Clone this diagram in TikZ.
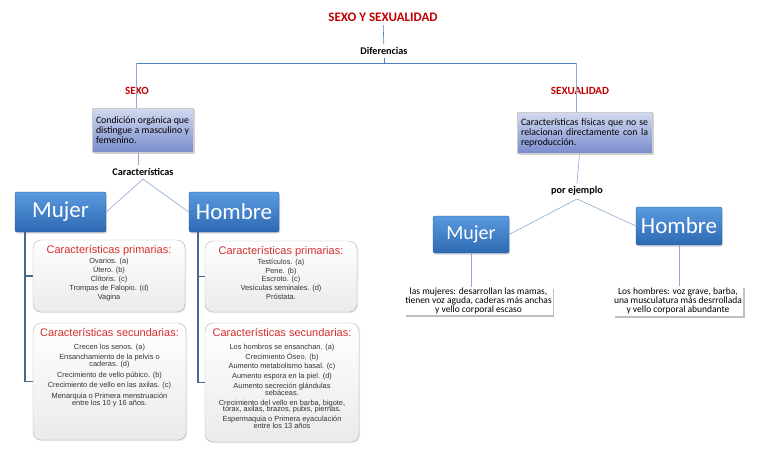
\documentclass[tikz,border=0pt]{standalone}
\usepackage{fontspec}
\setmainfont{Carlito}
\newfontfamily\arialf{Liberation Sans}
\usetikzlibrary{positioning, shadows, calc}
\definecolor{mRed}{HTML}{C00000}
\definecolor{mRedT}{HTML}{D2302E}
\definecolor{mBlue}{HTML}{4F81BD}
\definecolor{mLine}{HTML}{8EA8D4}
\definecolor{mTrunk}{HTML}{4A6890}
\definecolor{mBoxTop}{HTML}{5A9AE0}
\definecolor{mBoxBot}{HTML}{2D69B2}
\definecolor{mLavTop}{HTML}{D3DAF1}
\definecolor{mLavBot}{HTML}{7A8CCC}
\definecolor{mGrayTxt}{HTML}{333333}
\newcommand{\tlista}[1]{{\color{mRedT}\fontsize{11}{12}\selectfont #1}}
\newcommand{\fuentelista}{\arialf\fontsize{7.4}{6.8}\selectfont\setlength{\lineskiplimit}{-5pt}\relax}
\begin{document}
\begin{tikzpicture}[x=1pt, y=-1pt,
  rotulo/.style={font=\bfseries\fontsize{10.2}{11}\selectfont},
  rojo/.style={font=\bfseries\fontsize{11}{12}\selectfont, text=mRed},
  azul/.style={rounded corners=2pt, top color=mBoxTop, bottom color=mBoxBot, draw=mBoxBot!85!black,
               text=white, font=\fontsize{23}{24}\selectfont, inner sep=0pt,
               drop shadow={opacity=0.3, shadow xshift=1pt, shadow yshift=-1.5pt}},
  defcaja/.style={top color=mLavTop, bottom color=mLavBot, draw=gray!40, line width=1pt,
                  align=justify, inner sep=4pt, font=\fontsize{9.8}{10}\selectfont,
                  drop shadow={opacity=0.35, shadow xshift=1.5pt, shadow yshift=-1.5pt}},
  gris/.style={rounded corners=8pt, top color=white, bottom color=gray!16, draw=gray!60,
               drop shadow={opacity=0.2, shadow xshift=1pt, shadow yshift=-1pt}},
  lista/.style={anchor=north, align=center, text=mGrayTxt, font=\fuentelista},
  nota/.style={fill=white, align=center, inner sep=1pt, font=\fontsize{9.5}{9}\selectfont,
               drop shadow={opacity=0.5, shadow xshift=1.5pt, shadow yshift=-2pt}},
  enlace/.style={draw=mLine, line width=0.6pt},
  tronco/.style={draw=mTrunk, line width=1.6pt},
]
  \useasboundingbox (0,0) rectangle (768,466);

  \node[rojo, font=\bfseries\fontsize{13}{14}\selectfont] (titulo) at (383,17) {SEXO Y SEXUALIDAD};
  \node[rotulo] (dif) at (384,51) {Diferencias};
  \coordinate (esqI) at (136,63);
  \coordinate (esqD) at (576,63);
  \node[rojo] (sexo) at (137,91) {SEXO};
  \node[rojo] (sexual) at (580,91) {SEXUALIDAD};

  \node[defcaja, text width=93pt, minimum height=44pt] (defsexo) at (142.5,130)
    {Condición orgánica que\linebreak distingue a masculino y\linebreak femenino.};
  \node[defcaja, text width=127pt, minimum height=41pt] (defsexual) at (584.5,132.5)
    {Características físicas que no se\linebreak relacionan directamente con la\linebreak reproducción.};

  \node[rotulo] (caract) at (143,172) {Características};
  \node[rotulo] (porej) at (577,191) {por ejemplo};

  \node[azul, minimum width=91pt, minimum height=40pt] (mujerI) at (60.5,212) {Mujer};
  \node[azul, minimum width=90pt, minimum height=40pt] (hombreI) at (234,212) {Hombre};
  \node[azul, minimum width=76pt, minimum height=37pt, font=\fontsize{20}{22}\selectfont] (mujerD) at (471,234.5) {Mujer};
  \node[azul, minimum width=86pt, minimum height=38pt] (hombreD) at (679,226) {Hombre};

  \node[gris, minimum width=152pt, minimum height=72pt] (mprim) at (109,276) {};
  \node[gris, minimum width=153pt, minimum height=117pt] (msec) at (109.5,381.5) {};
  \node[gris, minimum width=152pt, minimum height=71pt] (hprim) at (281,276.5) {};
  \node[gris, minimum width=154pt, minimum height=119pt] (hsec) at (282,382.5) {};

  \node[lista] (mprimT) at ([yshift=-2pt]mprim.north)
    {\tlista{Características primarias:}\\[3pt]
     Ovarios. (a)\\[2.2pt] Útero. (b)\\[2.2pt] Clítoris. (c)\\[2.2pt]
     Trompas de Falopio. (d)\\[2.2pt] Vagina};
  \node[lista] (msecT) at ([yshift=-2pt]msec.north)
    {\tlista{Características secundarias:}\\[6pt]
     Crecen los senos. (a)\\[3.8pt]
     Ensanchamiento de la pelvis o\\ caderas. (d)\\[3.8pt]
     Crecimiento de vello púbico. (b)\\[3.8pt]
     Crecimiento de vello en las axilas. (c)\\[3.8pt]
     Menarquia o Primera menstruación\\ entre los 10 y 16 años.};
  \node[lista] (hprimT) at ([yshift=-2pt]hprim.north)
    {\tlista{Características primarias:}\\[3pt]
     Testículos. (a)\\[2pt] Pene. (b)\\[2pt] Escroto. (c)\\[2pt]
     Vesículas seminales. (d)\\[2pt] Próstata.};
  \node[lista] (hsecT) at ([yshift=-2pt]hsec.north)
    {\tlista{Características secundarias:}\\[6pt]
     Los hombros se ensanchan. (a)\\[3pt]
     Crecimiento Óseo. (b)\\[3pt]
     Aumento metabolismo basal. (c)\\[3pt]
     Aumento espora en la piel. (d)\\[3pt]
     Aumento secreción glándulas\\ sebáceas.\\[3pt]
     Crecimiento del vello en barba, bigote,\\ tórax, axilas, brazos, pubis, piernas.\\[3pt]
     Espermaquia o Primera eyaculación\\ entre los 13 años};

  \node[nota, minimum width=147pt, minimum height=28pt] (notaM) at (478.5,301)
    {las mujeres: desarrollan las mamas,\\ tienen voz aguda, caderas más anchas\\ y vello corporal escaso};
  \node[nota, minimum width=120pt, minimum height=30pt] (notaH) at (678,301)
    {Los hombres: voz grave, barba,\\ una musculatura más desrrollada\\ y vello corporal abundante};

  \draw[enlace, draw=mBlue] (titulo) -- (dif);
  \draw[enlace, draw=mBlue] (dif) -- (dif |- esqI);
  \draw[draw=mBlue, line width=1pt] (esqI) -- (esqD);
  \draw[enlace] (esqI) -- (esqI |- defsexo.north);
  \draw[enlace] (esqD) -- (esqD |- defsexual.north);
  \draw[enlace] (defsexo.south -| caract) ++(-5pt,0) -- ($(caract.north)+(-5pt,0)$);
  \draw[enlace] (defsexual.south) ++(-5pt,0) -- (porej.north);
  \draw[enlace] (caract.south) -- (mujerI.east);
  \draw[enlace] (caract.south) -- (hombreI.west);
  \draw[enlace] (porej.south) -- (mujerD.east);
  \draw[enlace] (porej.south) -- (hombreD.west);
  \draw[enlace] (mujerD.south) -- (mujerD.south |- notaM.north);
  \draw[enlace] (hombreD.south) -- (hombreD.south |- notaH.north);
  \draw[tronco] ([xshift=10pt]mujerI.south west) |- (mprim.west);
  \draw[tronco] ([xshift=10pt]mujerI.south west) |- (msec.west);
  \draw[tronco] ([xshift=9pt]hombreI.south west) |- (hprim.west);
  \draw[tronco] ([xshift=9pt]hombreI.south west) |- (hsec.west);
\end{tikzpicture}
\end{document}
